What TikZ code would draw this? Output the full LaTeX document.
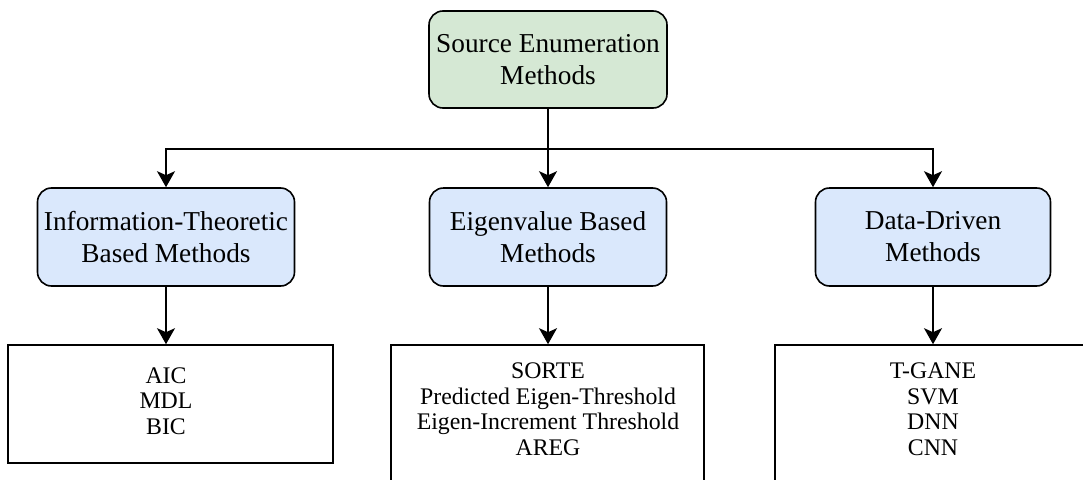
\documentclass[tikz,border=0pt]{standalone}
\usepackage{fontspec}
\setmainfont{Liberation Serif}
\usetikzlibrary{arrows.meta}
\definecolor{greenfill}{HTML}{D5E8D4}
\definecolor{bluefill}{HTML}{DAE8FC}
\begin{document}
\begin{tikzpicture}[x=1pt,y=-1pt,
  rbox/.style={draw=black, line width=1.6pt, rounded corners=14pt, align=center,
    font=\fontsize{27.3}{32}\selectfont, inner sep=0pt, minimum height=98pt},
  topbox/.style={rbox, fill=greenfill},
  catbox/.style={rbox, fill=bluefill},
  listbox/.style={draw=black, line width=1.6pt, inner sep=0pt},
  listtext/.style={align=center, font=\fontsize{23.8}{25.5}\selectfont, inner sep=0pt},
  link/.style={line width=1.6pt},
  arr/.style={link, -{Stealth[length=16pt,width=18pt,inset=4pt]}}]
\useasboundingbox (0,0) rectangle (1083,479);
\clip (0,0) rectangle (1083,479);

% root and the three families of methods
\node[topbox, minimum width=238pt, minimum height=97pt] (src) at (548,59.5) {Source Enumeration\\Methods};
\node[catbox, minimum width=257pt] (info) at (166,237) {Information-Theoretic\\Based Methods};
\node[catbox, minimum width=237pt] (eig) at (548,237) {Eigenvalue Based\\Methods};
\node[catbox, minimum width=235pt] (data) at (933,237) {Data-Driven\\Methods};

% lists of individual methods
\node[listbox, minimum width=325pt, minimum height=118pt] (infobox) at (170.5,404) {};
\node[listbox, minimum width=313pt, minimum height=175pt] (eigbox) at (547.5,432.5) {};
\node[listbox, minimum width=320pt, minimum height=175pt] (databox) at (935,432.5) {};

\node[listtext] (infolist) at (166,401) {AIC\\MDL\\BIC};
\node[listtext] (eiglist) at (548,409) {SORTE\\Predicted Eigen-Threshold\\Eigen-Increment Threshold\\AREG};
\node[listtext] (datalist) at (933,409) {T-GANE\\SVM\\DNN\\CNN};

% connectors
\coordinate (bus) at (548,149);
\draw[arr] (src.south) -- (eig.north);
\draw[arr] (bus) -| (info.north);
\draw[arr] (bus) -| (data.north);
\draw[arr] (info.south) -- (info.south |- infobox.north);
\draw[arr] (eig.south) -- (eig.south |- eigbox.north);
\draw[arr] (data.south) -- (data.south |- databox.north);
\end{tikzpicture}
\end{document}
